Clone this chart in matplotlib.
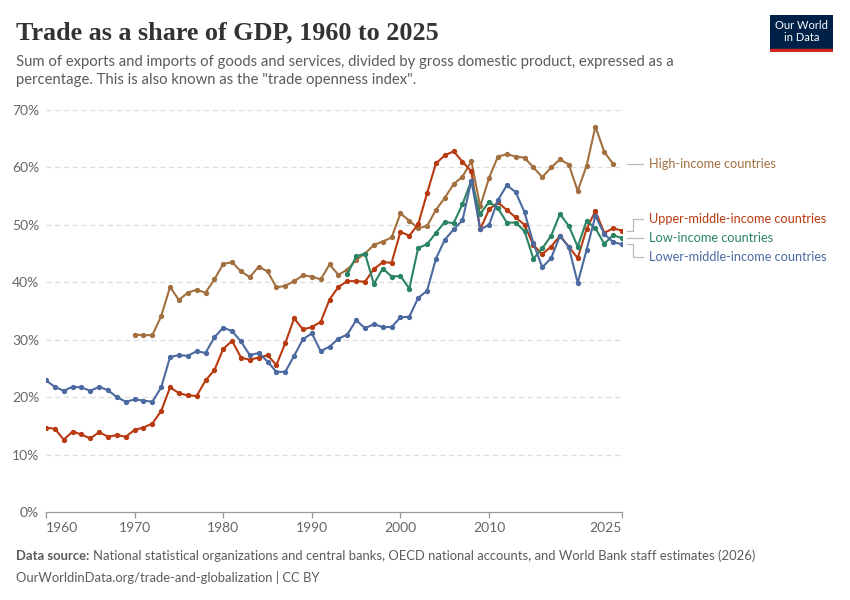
import numpy as np
import matplotlib
matplotlib.use("Agg")
import matplotlib.pyplot as plt
from matplotlib.patches import Rectangle

nan = np.nan

years = list(range(1960, 2026))

# valores (% do PIB)
lower_middle = [22.9, 21.8, 21.1, 21.8, 21.7, 21.1, 21.8, 21.2, 20.0, 19.2,
                19.6, 19.4, 19.2, 21.7, 27.0, 27.3, 27.2, 28.0, 27.7, 30.4,
                32.1, 31.5, 29.7, 27.3, 27.7, 26.2, 24.4, 24.4, 27.2, 30.1,
                31.1, 28.0, 28.8, 30.2, 30.9, 33.4, 32.0, 32.7, 32.2, 32.2,
                33.9, 34.0, 37.3, 38.5, 44.1, 47.4, 49.2, 50.8, 57.7, 49.2,
                50.0, 54.3, 56.9, 55.7, 52.2, 46.8, 42.6, 44.2, 48.1, 46.1,
                39.9, 45.6, 51.6, 48.4, 47.0, 46.6]

upper_middle = [14.7, 14.5, 12.6, 14.0, 13.5, 12.8, 13.9, 13.1, 13.4, 13.1,
                14.3, 14.7, 15.4, 17.6, 21.7, 20.7, 20.3, 20.2, 22.9, 24.7,
                28.4, 29.8, 26.9, 26.5, 26.9, 27.3, 25.6, 29.4, 33.7, 31.8,
                32.2, 33.1, 37.0, 39.2, 40.2, 40.2, 40.1, 42.3, 43.5, 43.4,
                48.8, 48.1, 50.1, 55.5, 60.7, 62.1, 62.8, 61.0, 59.3, 49.2,
                52.7, 53.9, 52.6, 51.3, 50.0, 46.5, 44.9, 46.2, 48.1, 46.2,
                44.2, 49.3, 52.4, 48.6, 49.4, 49.0]

high_income = [nan] * 10 + [
                30.9, 30.8, 30.8, 34.1, 39.2, 36.9, 38.2, 38.7, 38.2, 40.5,
                43.2, 43.5, 41.9, 40.9, 42.7, 41.9, 39.1, 39.4, 40.2, 41.2,
                41.0, 40.5, 43.1, 41.3, 42.2, 43.9, 45.0, 46.5, 47.1, 47.8,
                52.0, 50.7, 49.4, 49.8, 52.6, 54.7, 57.1, 58.4, 61.1, 53.2,
                58.2, 61.9, 62.3, 61.9, 61.7, 60.0, 58.3, 60.0, 61.4, 60.5,
                55.9, 60.3, 67.1, 62.7, 60.6, nan]

low_income = [nan] * 34 + [
                41.4, 44.5, 45.0, 39.7, 42.4, 41.0,
                41.1, 38.9, 46.0, 46.6, 48.6, 50.5, 50.3, 53.6, 57.7, 51.9,
                54.0, 52.9, 50.4, 50.4, 48.9, 44.1, 45.9, 48.1, 51.9, 49.8,
                46.2, 50.7, 49.4, 46.7, 48.2, 47.7]

series_names = ["High-income countries", "Upper-middle-income countries",
                "Low-income countries", "Lower-middle-income countries"]
series_values = [high_income, upper_middle, low_income, lower_middle]
series_colors = ["#A2703F", "#B83A10", "#2A8464", "#4C6AA0"]

x_ticks = [1960, 1970, 1980, 1990, 2000, 2010, 2025]
y_ticks = [0, 10, 20, 30, 40, 50, 60, 70]

# posicao vertical dos rotulos (layout)
label_y = [60.6, 51.0, 47.7, 44.4]

plt.rcParams['font.family'] = ['Lato', 'DejaVu Sans']

fig = plt.figure(figsize=(8.5, 6), dpi=100)
ax = fig.add_axes([46 / 850, 1 - 512 / 600, 576 / 850, 402 / 600])

for vals, col in zip(series_values, series_colors):
    v = np.array(vals, dtype=float)
    ax.plot(years, v, color=col, lw=1.5, marker="o", ms=2.8, zorder=3,
            solid_joinstyle="round")

ax.set_xlim(1960, 2025)
ax.set_ylim(0, 70)
ax.set_yticks(y_ticks)
ax.set_yticklabels([f"{t}%" for t in y_ticks])
ax.set_xticks(x_ticks)
ax.set_xticklabels([str(t) for t in x_ticks])
xlabels = ax.get_xticklabels()
xlabels[0].set_ha("left")
xlabels[-1].set_ha("right")

for t in y_ticks[1:]:
    ax.axhline(t, color="#dddddd", lw=0.9, ls=(0, (4, 3)), zorder=1)

for s in ["top", "right", "left"]:
    ax.spines[s].set_visible(False)
ax.spines["bottom"].set_color("#999999")
ax.spines["bottom"].set_linewidth(0.9)
ax.tick_params(axis="y", length=0, pad=5, labelsize=10, labelcolor="#666666")
ax.tick_params(axis="x", length=4, width=0.9, color="#999999", pad=3,
               labelsize=10, labelcolor="#666666")

# rotulos das series com linhas de ligacao
x_end = 2025
px = 1 / 8.87
for name, vals, col, ly in zip(series_names, series_values, series_colors, label_y):
    v = np.array(vals, dtype=float)
    last = v[~np.isnan(v)][-1]
    x0 = x_end + 5 * px
    xm = x_end + 11 * px
    x1 = x_end + 21 * px
    ax.plot([x0, xm, xm, x1], [last, last, ly, ly], color="#bbbbbb", lw=0.9,
            clip_on=False, zorder=2)
    ax.text(x_end + 27 * px, ly, name, color=col, fontsize=9.2, va="center",
            ha="left", clip_on=False)

# titulo e subtitulo
fig.text(16 / 850, 1 - 33 / 600, "Trade as a share of GDP, 1960 to 2025",
         family=["Liberation Serif", "DejaVu Serif"], fontsize=18.8,
         fontweight="bold", color="#333333", va="center", ha="left")
fig.text(16 / 850, 1 - 71 / 600,
         "Sum of exports and imports of goods and services, divided by gross domestic product, expressed as a\n"
         "percentage. This is also known as the \"trade openness index\".",
         fontsize=10.75, color="#5b5b5b", va="center", ha="left", linespacing=1.3)

# logo
logo = fig.add_axes([770 / 850, 1 - 52 / 600, 63 / 850, 37 / 600])
logo.set_xlim(0, 1)
logo.set_ylim(0, 1)
logo.axis("off")
logo.add_patch(Rectangle((0, 0), 1, 1, color="#002147"))
logo.add_patch(Rectangle((0, 0), 1, 0.08, color="#CE261E"))
logo.text(0.5, 0.55, "Our World\nin Data", color="white", fontsize=8,
          ha="center", va="center", linespacing=1.1)

# rodape
fig.text(16 / 850, 1 - 556 / 600, "Data source:", fontsize=9.35,
         fontweight="bold", color="#5b5b5b", va="center", ha="left")
fig.text(93 / 850, 1 - 556 / 600,
         "National statistical organizations and central banks, OECD national accounts, and World Bank staff estimates (2026)",
         fontsize=9.35, color="#5b5b5b", va="center", ha="left")
fig.text(16 / 850, 1 - 577 / 600, "OurWorldinData.org/trade-and-globalization | CC BY",
         fontsize=9.35, color="#5b5b5b", va="center", ha="left")

fig.savefig("out.png", dpi=100)
